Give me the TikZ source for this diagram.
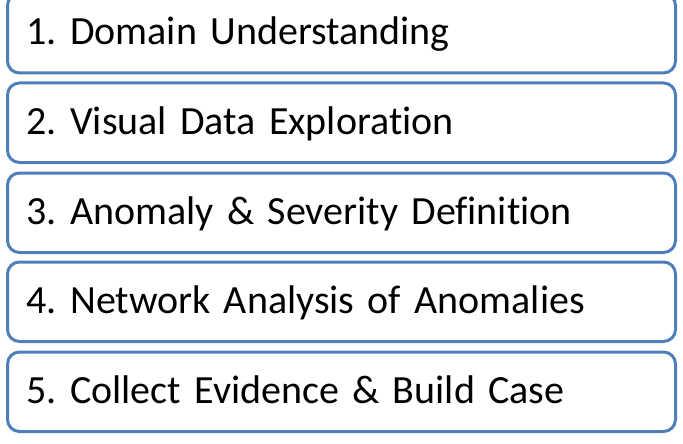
\documentclass[tikz,border=0pt]{standalone}
\usepackage{fontspec}
\setmainfont{Carlito}[Ligatures=NoCommon]
\frenchspacing
\definecolor{stepblue}{HTML}{4F7FBA}
\begin{document}
\begin{tikzpicture}[x=1pt,y=-1pt,
  stepbox/.style={draw=stepblue, line width=3pt, rounded corners=12pt, fill=white,
    minimum width=668pt, minimum height=79.5pt, inner xsep=19pt, inner ysep=0pt,
    text width=630pt, align=left, text height=25.8pt, text depth=2.8pt,
    font=\fontsize{40}{46}\selectfont, text=black}]
  \useasboundingbox (0,0) rectangle (683,444);
  \node[stepbox] (s1) at (341.5,33.25)  {1. Domain Understanding};
  \node[stepbox] (s2) at (341.5,122.75) {2. Visual Data Exploration};
  \node[stepbox] (s3) at (341.5,212.75) {3. Anomaly \& Severity Definition};
  \node[stepbox] (s4) at (341.5,301.75) {4. Network Analysis of Anomalies};
  \node[stepbox] (s5) at (341.5,391.75) {5. Collect Evidence \& Build Case};
\end{tikzpicture}
\end{document}
